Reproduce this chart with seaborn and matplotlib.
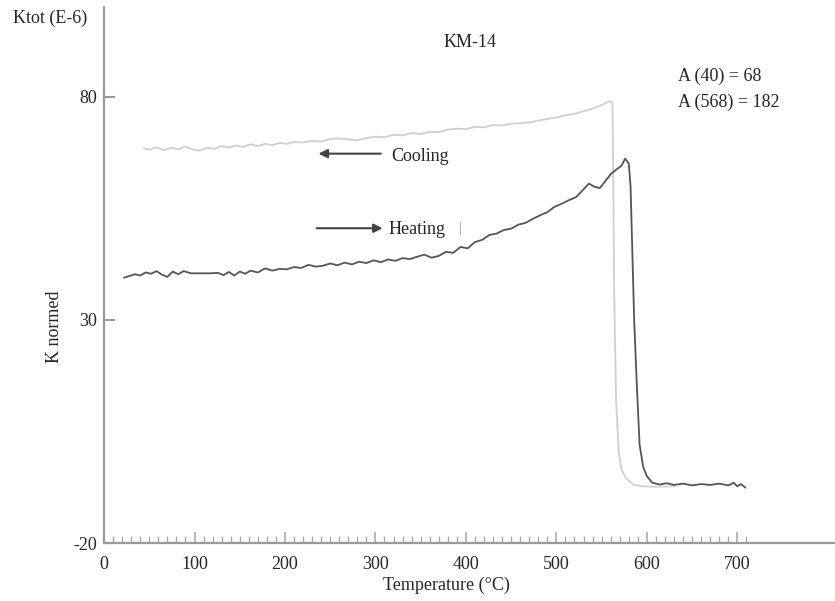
import pandas as pd
import numpy as np
import matplotlib
matplotlib.use('Agg')
import matplotlib.pyplot as plt
import seaborn as sns
from matplotlib.ticker import FixedLocator

# Heating curve (dark)
temp_heating = [22, 28, 34, 40, 46, 52, 58, 64, 70, 76, 82, 88, 96, 104, 118, 126, 132, 138, 144,
                150, 156, 162, 170, 178, 186, 194, 202, 210, 218, 226, 234, 242, 250, 258, 266,
                274, 282, 290, 298, 306, 314, 322, 330, 338, 346, 354, 362, 370, 378, 386, 394,
                402, 410, 418, 426, 434, 442, 450, 458, 466, 474, 482, 490, 498, 506, 514, 522,
                530, 536, 542, 548, 554, 560, 566, 572, 576, 580, 582, 584, 586, 589, 592, 596,
                600, 606, 614, 622, 630, 640, 650, 660, 670, 680, 690, 696, 700, 704, 709]
k_heating = [39.4, 39.8, 40.2, 39.9, 40.6, 40.3, 40.9, 40.1, 39.6, 40.8, 40.2, 40.9, 40.4, 40.4,
             40.4, 40.5, 40.0, 40.7, 39.9, 40.8, 40.3, 41.0, 40.6, 41.5, 41.0, 41.4, 41.3, 41.8,
             41.6, 42.3, 41.9, 42.1, 42.6, 42.2, 42.8, 42.4, 43.0, 42.7, 43.3, 42.9, 43.5, 43.2,
             43.8, 43.6, 44.1, 44.6, 43.9, 44.3, 45.2, 45.0, 46.3, 46.0, 47.4, 47.9, 49.0, 49.3,
             50.1, 50.4, 51.3, 51.7, 52.6, 53.4, 54.1, 55.3, 56.0, 56.8, 57.5, 59.2, 60.5, 59.8,
             59.5, 61.0, 62.6, 63.6, 64.5, 66.1, 65.0, 60.0, 45.0, 30.0, 15.0, 2.0, -3.0,
             -5.0, -6.5, -6.9, -6.6, -7.0, -6.7, -7.1, -6.8, -7.0, -6.7, -7.1, -6.5, -7.3, -6.8, -7.6]

# Cooling curve (light), from high to low temperature
temp_cooling = [630, 610, 595, 585, 577, 572, 569, 566, 564, 563, 562, 560, 556, 548, 540, 530,
                520, 510, 500, 490, 480, 470, 460, 450, 440, 430, 420, 410, 400, 390, 380, 370,
                360, 350, 340, 330, 320, 310, 300, 290, 280, 270, 260, 250, 240, 230, 220, 210,
                202, 194, 186, 178, 170, 162, 154, 146, 138, 130, 122, 114, 106, 98, 90, 82, 74,
                66, 58, 50, 44]
k_cooling = [-7.3, -7.4, -7.3, -6.9, -5.5, -3.5, 0.0, 12.0, 35.0, 60.0, 78.5, 79.0, 78.7, 77.9,
             77.3, 76.7, 76.1, 75.8, 75.3, 75.0, 74.6, 74.2, 74.0, 73.9, 73.5, 73.6, 73.1, 73.2,
             72.7, 72.8, 72.6, 72.0, 72.1, 71.6, 71.8, 71.3, 71.4, 70.9, 71.0, 70.7, 70.2, 70.4,
             70.6, 70.5, 69.9, 70.1, 69.7, 69.8, 69.4, 69.6, 69.1, 69.4, 68.9, 69.3, 68.7, 69.0,
             68.6, 68.9, 68.3, 68.5, 67.9, 68.1, 68.8, 68.2, 68.5, 68.0, 68.6, 68.1, 68.4]

x_ticks = [0, 100, 200, 300, 400, 500, 600, 700]
y_ticks = [-20, 30, 80]

df_heat = pd.DataFrame({'T': temp_heating, 'K': k_heating})
df_cool = pd.DataFrame({'T': temp_cooling, 'K': k_cooling})

sns.set_style('white')
plt.rcParams['font.family'] = ['Liberation Serif', 'DejaVu Serif']
plt.rcParams['axes.unicode_minus'] = False

fig = plt.figure(figsize=(8.35, 6.01), dpi=100)
ax = fig.add_axes([0.1246, 0.0965, 0.8754, 0.8915])

sns.lineplot(data=df_cool, x='T', y='K', sort=False, estimator=None, color='#cfcfcf', lw=1.3, ax=ax)
sns.lineplot(data=df_heat, x='T', y='K', sort=False, estimator=None, color='#555555', lw=1.3, ax=ax)

ax.set_xlim(0, 808)
ax.set_ylim(-20, 100)
ax.xaxis.set_major_locator(FixedLocator(x_ticks))
ax.xaxis.set_minor_locator(FixedLocator(list(range(0, 711, 10))))
ax.yaxis.set_major_locator(FixedLocator(y_ticks))

for s in ['top', 'right']:
    ax.spines[s].set_visible(False)
for s in ['left', 'bottom']:
    ax.spines[s].set_color('#999999')
    ax.spines[s].set_linewidth(1.6)

ax.tick_params(axis='x', which='major', direction='in', length=8, width=1.2, color='#aaaaaa',
               pad=9, labelsize=13, bottom=True)
ax.tick_params(axis='x', which='minor', direction='in', length=5, width=1.0, color='#aaaaaa', bottom=True)
ax.tick_params(axis='y', which='major', direction='in', length=8, width=1.5, color='#999999',
               pad=5, labelsize=13, left=True)

ax.set_xlabel('Temperature (°C)', fontsize=13)
ax.xaxis.set_label_coords(0.469, -0.063)
ax.set_ylabel('K normed', fontsize=13)
ax.yaxis.set_label_coords(-0.056, 0.403)

fig.text(13 / 835, 1 - 18 / 601, 'Ktot (E-6)', fontsize=13, va='center', ha='left')
ax.text(405, 92.1, 'KM-14', fontsize=13, ha='center', va='center')
ax.text(634, 84.5, 'A (40) = 68', fontsize=13, ha='left', va='center')
ax.text(634, 78.7, 'A (568) = 182', fontsize=13, ha='left', va='center')

ax.annotate('', xy=(234, 67.2), xytext=(309, 67.2),
            arrowprops=dict(arrowstyle='-|>', color='#444444', lw=1.5, mutation_scale=13))
ax.text(317, 66.6, 'Cooling', fontsize=13, ha='left', va='center')
ax.annotate('', xy=(311, 50.5), xytext=(232, 50.5),
            arrowprops=dict(arrowstyle='-|>', color='#444444', lw=1.5, mutation_scale=13))
ax.text(315, 50.3, 'Heating', fontsize=13, ha='left', va='center')
ax.text(394, 50.5, '|', fontsize=10, color='#999999', ha='center', va='center')

fig.savefig('out.png', dpi=100)
